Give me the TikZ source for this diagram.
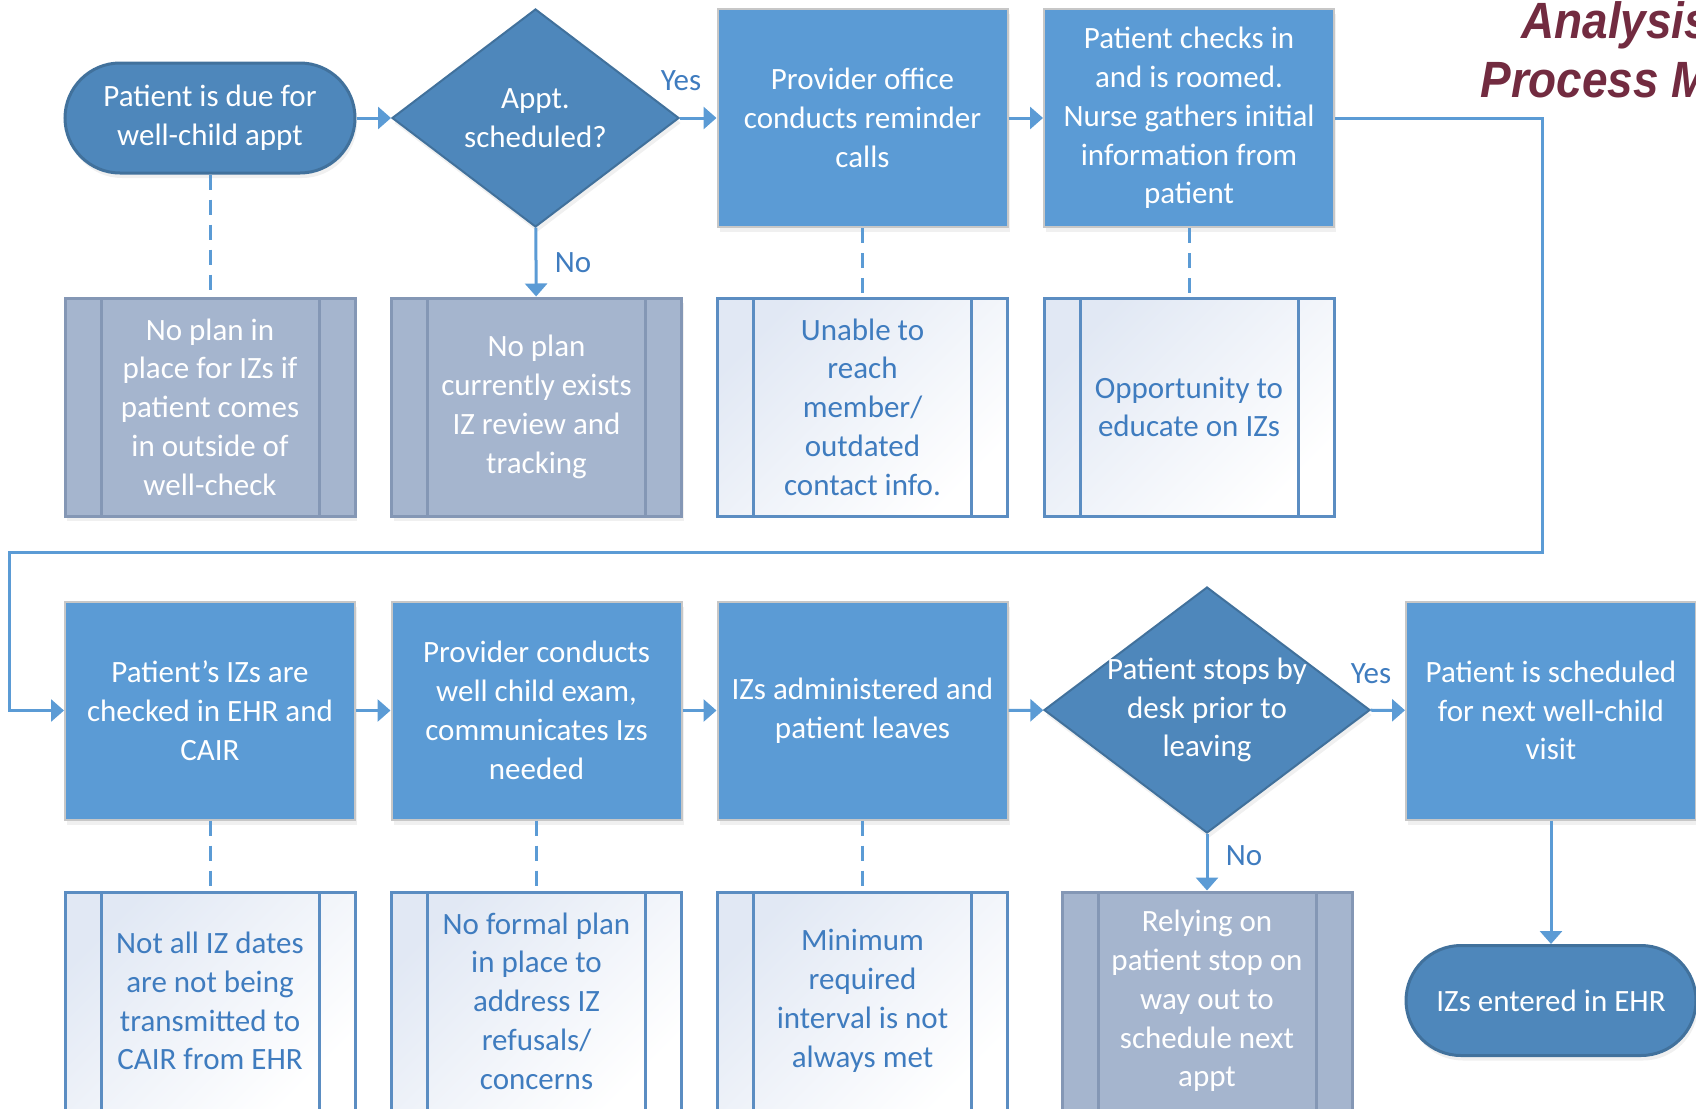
\documentclass[tikz,border=0pt]{standalone}
\usepackage{fontspec}
\setmainfont{Carlito}
\newfontfamily\titlefont[FakeStretch=0.9]{Liberation Sans}
\usetikzlibrary{shapes.geometric,arrows.meta,shadows}

\definecolor{stepblue}{HTML}{5B9BD5}
\definecolor{darkblue}{HTML}{4E87BB}
\definecolor{edgeblue}{HTML}{41719C}
\definecolor{greybox}{HTML}{A5B5CE}
\definecolor{greyline}{HTML}{8497B5}
\definecolor{paleline}{HTML}{5B8DC2}
\definecolor{textblue}{HTML}{3F7CBF}
\definecolor{titlered}{HTML}{722B40}
\definecolor{paletint}{HTML}{E1E8F4}

\begin{document}
\begin{tikzpicture}[x=0.5pt,y=-0.5pt,
		every node/.style={font=\fontsize{15.5}{19.4}\selectfont, align=center},
		soft/.style={drop shadow={opacity=0.12, shadow xshift=1pt, shadow yshift=-2.5pt}},
		stepbox/.style={rectangle, fill=stepblue, draw=black!22, line width=1pt, text=white, minimum width=145pt, minimum height=109pt, inner sep=0pt, soft},
		terminal/.style={rectangle, rounded corners=27.5pt, fill=darkblue, draw=edgeblue, line width=1.5pt, text=white, minimum width=145pt, minimum height=55pt, inner sep=0pt, soft},
		decision/.style={diamond, fill=darkblue, draw=edgeblue, line width=1pt, inner sep=0pt, soft},
		procbox/.style={rectangle, draw=#1, line width=1.5pt, minimum width=145pt, minimum height=109pt, inner sep=0pt,
			path picture={\draw[#1, line width=1.5pt] ([xshift=18pt]path picture bounding box.north west) -- ([xshift=18pt]path picture bounding box.south west) ([xshift=-18pt]path picture bounding box.north east) -- ([xshift=-18pt]path picture bounding box.south east);}},
		greyissue/.style={procbox=greyline, fill=greybox, text=white, soft},
		paleissue/.style={procbox=paleline, top color=paletint, bottom color=white, shading angle=45, text=textblue},
		answer/.style={text=textblue},
		arrow/.style={stepblue, line width=1.5pt, -{Triangle[length=6.5pt, width=11pt]}},
		dashlink/.style={stepblue, line width=1.5pt, dash pattern=on 7.5pt off 5pt},
		heading/.style={anchor=base west, inner sep=0pt, text=titlered, font=\titlefont\bfseries\itshape\fontsize{25.5}{30}\selectfont}]
	\useasboundingbox (0,0) rectangle (1696,1108);
	\clip (0,0) rectangle (1696,1108);

	% title
	\node[heading] (H1) at (1521,38) {Analysis};
	\node[heading] (H2) at (1480,97) {Process Map};

	% first row
	\node[terminal] (T1) at (210,118) {Patient is due for\\well-child appt};
	\node[decision, minimum width=143.5pt, minimum height=109pt, label={[text=white]center:{Appt.\\scheduled?}}] (D1) at (535.5,118) {};
	\node[stepbox] (S1) at (862.5,118) {Provider office\\conducts reminder\\calls};
	\node[stepbox] (S2) at (1189,118) {Patient checks in\\and is roomed.\\Nurse gathers initial\\information from\\patient};

	\node[greyissue] (Q1) at (210,407) {No plan in\\place for IZs if\\patient comes\\in outside of\\well-check};
	\node[greyissue] (Q2) at (536.5,407) {No plan\\currently exists\\IZ review and\\tracking};
	\node[paleissue] (Q3) at (862.5,407) {Unable to\\reach\\member/\\outdated\\contact info.};
	\node[paleissue] (Q4) at (1189,407) {Opportunity to\\educate on IZs};

	% second row
	\node[stepbox] (R1) at (210,710.5) {Patient’s IZs are\\checked in EHR and\\CAIR};
	\node[stepbox] (R2) at (536.5,710.5) {Provider conducts\\well child exam,\\communicates Izs\\needed};
	\node[stepbox] (R3) at (862.5,710.5) {IZs administered and\\patient leaves};
	\node[decision, minimum width=163pt, minimum height=123pt, label={[text=white]center:{Patient stops by\\desk prior to\\leaving}}] (D2) at (1207,710) {};
	\node[stepbox] (R4) at (1551,710.5) {Patient is scheduled\\for next well-child\\visit};

	\node[paleissue] (I1) at (210,1001) {Not all IZ dates\\are not being\\transmitted to\\CAIR from EHR};
	\node[paleissue] (I2) at (536.5,1001) {No formal plan\\in place to\\address IZ\\refusals/\\concerns};
	\node[paleissue] (I3) at (862.5,1001) {Minimum\\required\\interval is not\\always met};
	\node[greyissue] (I4) at (1207,1001) {Relying on\\patient stop on\\way out to\\schedule next\\appt};
	\node[terminal] (T2) at (1551,1000.5) {IZs entered in EHR};

	\node[answer] (Y1) at (681,81) {Yes};
	\node[answer] (N1) at (573,263) {No};
	\node[answer] (Y2) at (1371,674) {Yes};
	\node[answer] (N2) at (1244,856) {No};

	\coordinate (C1) at (1542,552);
	\coordinate (C2) at (9,552);

	\draw[arrow] (T1) -- (D1);
	\draw[arrow] (D1) -- (S1);
	\draw[arrow] (S1) -- (S2);
	\draw[arrow] (D1) -- (Q2);
	\draw[dashlink] (T1) -- (Q1);
	\draw[dashlink] (S1) -- (Q3);
	\draw[dashlink] (S2) -- (Q4);
	\draw[arrow] (S2.east) -| (C1) -- (C2) |- (R1.west);
	\draw[arrow] (R1) -- (R2);
	\draw[arrow] (R2) -- (R3);
	\draw[arrow] (R3) -- (D2);
	\draw[arrow] (D2) -- (R4);
	\draw[arrow] (D2) -- (I4);
	\draw[arrow] (R4) -- (T2);
	\draw[dashlink] (R1) -- (I1);
	\draw[dashlink] (R2) -- (I2);
	\draw[dashlink] (R3) -- (I3);
\end{tikzpicture}
\end{document}
